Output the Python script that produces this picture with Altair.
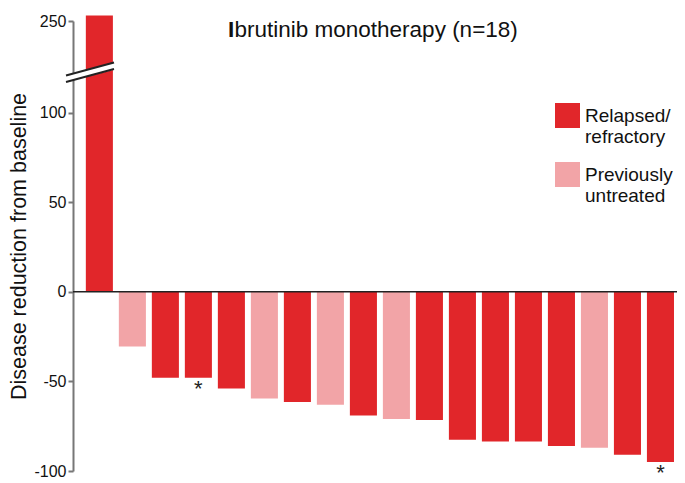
import altair as alt
import pandas as pd

patients = list(range(1, 19))
reduction = [253, -30.5, -48, -48, -54, -59.5, -61.5, -63, -69, -71, -71.5,
             -82.5, -83.5, -83.5, -86, -87, -91, -95]
group = ["Relapsed/refractory", "Previously untreated", "Relapsed/refractory",
         "Relapsed/refractory", "Relapsed/refractory", "Previously untreated",
         "Relapsed/refractory", "Previously untreated", "Relapsed/refractory",
         "Previously untreated", "Relapsed/refractory", "Relapsed/refractory",
         "Relapsed/refractory", "Relapsed/refractory", "Relapsed/refractory",
         "Previously untreated", "Relapsed/refractory", "Relapsed/refractory"]
note = ["", "", "", "*", "", "", "", "", "", "", "", "", "", "", "", "", "", "*"]

tick_values = [-100, -50, 0, 50, 100, 151.1]
group_names = ["Relapsed/refractory", "Previously untreated"]
group_colors = ["#e1262a", "#f2a4a7"]

FONT = "Liberation Sans"

df = pd.DataFrame({"patient": patients, "reduction": reduction,
                   "group": group, "note": note})
one = pd.DataFrame({"k": [0]})

base = alt.Chart(df).transform_calculate(
    disp="datum.reduction > 200 ? 151.1 + datum.reduction - 250 : datum.reduction"
)

yscale = alt.Scale(domain=[-100, 151.1], nice=False, zero=True)
xenc = alt.X("patient:O", axis=None,
             scale=alt.Scale(paddingInner=0.18, paddingOuter=0.24, align=0.81))

bars = base.mark_bar(clip=False).encode(
    x=xenc,
    y=alt.Y("disp:Q", scale=yscale, axis=alt.Axis(
        values=tick_values,
        labelExpr="datum.value > 140 ? '250' : '' + datum.value",
        title="Disease reduction from baseline",
        grid=False, domainColor="#777", domainWidth=2,
        tickColor="#777", tickWidth=2, tickSize=5,
        labelFontSize=16, labelColor="#111", labelFont=FONT, labelPadding=2,
        titleFontSize=21.5, titleFont=FONT, titleFontWeight="normal",
        titleColor="#111", titlePadding=3)),
    color=alt.Color("group:N", scale=alt.Scale(domain=group_names, range=group_colors),
                    legend=alt.Legend(
                        orient="none", legendX=482, legendY=82, title=None,
                        symbolType="square", symbolSize=625, symbolStrokeWidth=0,
                        symbolOpacity=1,
                        labelFontSize=19, labelFont=FONT, labelColor="#111",
                        labelOffset=5, rowPadding=15,
                        labelExpr="datum.label == 'Relapsed/refractory' ? ['Relapsed/', 'refractory'] : ['Previously', 'untreated']")),
)

stars = base.mark_text(baseline="top", dy=1, fontSize=22, font=FONT, color="#222").encode(
    x=xenc, y=alt.Y("disp:Q", scale=yscale), text="note:N"
)

zero = alt.Chart(one).mark_rule(color="#222", strokeWidth=1.5).encode(y=alt.datum(0))

brk_white = alt.Chart(one).mark_rule(color="white", strokeWidth=7).encode(
    x=alt.value(-8), x2=alt.value(42), y=alt.datum(118.9), y2=alt.datum(126.1))
brk_a = alt.Chart(one).mark_rule(color="#222", strokeWidth=2).encode(
    x=alt.value(-7), x2=alt.value(41), y=alt.datum(120.7), y2=alt.datum(127.9))
brk_b = alt.Chart(one).mark_rule(color="#222", strokeWidth=2).encode(
    x=alt.value(-7), x2=alt.value(41), y=alt.datum(117.1), y2=alt.datum(124.3))

title_i = alt.Chart(one).mark_text(
    text="I", fontSize=22.5, font=FONT, fontWeight="bold", color="#111",
    baseline="alphabetic", align="left"
).encode(x=alt.value(155), y=alt.value(16))
title_rest = alt.Chart(one).mark_text(
    text="brutinib monotherapy (n=18)", fontSize=22.5, font=FONT, fontWeight="normal",
    color="#111", baseline="alphabetic", align="left"
).encode(x=alt.value(161.5), y=alt.value(16))

chart = alt.layer(bars, zero, stars, brk_white, brk_a, brk_b, title_i, title_rest).properties(
    width=604, height=450,
    padding={"left": 65, "top": 13, "right": 0, "bottom": 7},
    autosize=alt.AutoSizeParams(type="none"),
).configure_view(stroke=None)

chart.save("out.html", embed_options={"renderer": "svg", "actions": False})
